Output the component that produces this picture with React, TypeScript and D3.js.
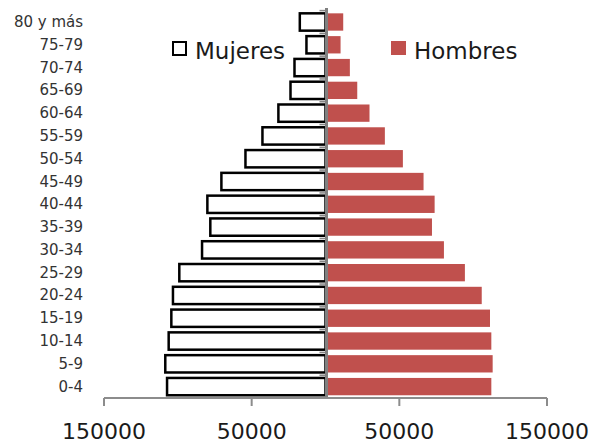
import React from "react";
import * as d3 from "d3";

const categories = ["0-4","5-9","10-14","15-19","20-24","25-29","30-34","35-39","40-44","45-49","50-54","55-59","60-64","65-69","70-74","75-79","80 y más"];
const mujeres = [107300,108500,106200,104400,103300,99000,83600,78000,80000,70500,54200,42700,31900,23700,21000,12900,17400];
const hombres = [112300,113200,112300,111400,105800,94400,80200,72100,73900,66400,52400,40200,29800,21500,16500,10200,12000];
const xTicks = [-150000,-50000,50000,150000];
const tickLabels = ["150000","50000","50000","150000"];

const W = 601, H = 444;
const FONT = "'DejaVu Sans', sans-serif";

export default function App() {
  const x = d3.scaleLinear().domain([-150000, 150000]).range([104, 547]);
  const y = d3.scaleBand<string>().domain([...categories].reverse()).range([10.6, 398]).paddingInner(0.24).paddingOuter(0.12);
  const x0 = x(0);
  const step = y.step();
  const boundaries = d3.range(categories.length + 1).map(i => 10.6 + i * step);
  return (
    <svg width={W} height={H} style={{ position: "absolute", left: 0, top: 0, background: "#fff" }} fontFamily={FONT}>
      {boundaries.map((b, i) => (
        <line key={"ct" + i} x1={x0 - 6} x2={x0} y1={b} y2={b} stroke="#868686" strokeWidth={1.5} />
      ))}
      {categories.map((c, i) => (
        <rect key={"w" + c} x={x(-mujeres[i])} y={y(c)!} width={x0 - x(-mujeres[i])} height={y.bandwidth()} fill="#fff" stroke="#000" strokeWidth={2.5} />
      ))}
      {categories.map((c, i) => (
        <rect key={"m" + c} x={x0} y={y(c)!} width={x(hombres[i]) - x0} height={y.bandwidth()} fill="#C0504D" />
      ))}
      <line x1={x0 + 1} x2={x0 + 1} y1={8} y2={398} stroke="#808080" strokeWidth={3} />
      <line x1={x(-150000)} x2={x(150000)} y1={398} y2={398} stroke="#8c8c8c" strokeWidth={2} />
      {xTicks.map((t, i) => (
        <g key={"xt" + i}>
          <line x1={x(t)} x2={x(t)} y1={398} y2={406} stroke="#8c8c8c" strokeWidth={2} />
          <text x={x(t)} y={439} textAnchor="middle" fontSize={22} fill="#1a1a1a">{tickLabels[i]}</text>
        </g>
      ))}
      {categories.map(c => (
        <text key={"l" + c} x={83} y={y(c)! + y.bandwidth() / 2 + 5} textAnchor="end" fontSize={15} fill="#333">{c}</text>
      ))}
      <rect x={173} y={42} width={13} height={13} fill="#fff" stroke="#000" strokeWidth={2} />
      <text x={195} y={59} fontSize={23} fill="#1a1a1a">Mujeres</text>
      <rect x={391} y={41} width={15} height={14} fill="#C0504D" />
      <text x={414} y={59} fontSize={23} fill="#1a1a1a">Hombres</text>
    </svg>
  );
}
